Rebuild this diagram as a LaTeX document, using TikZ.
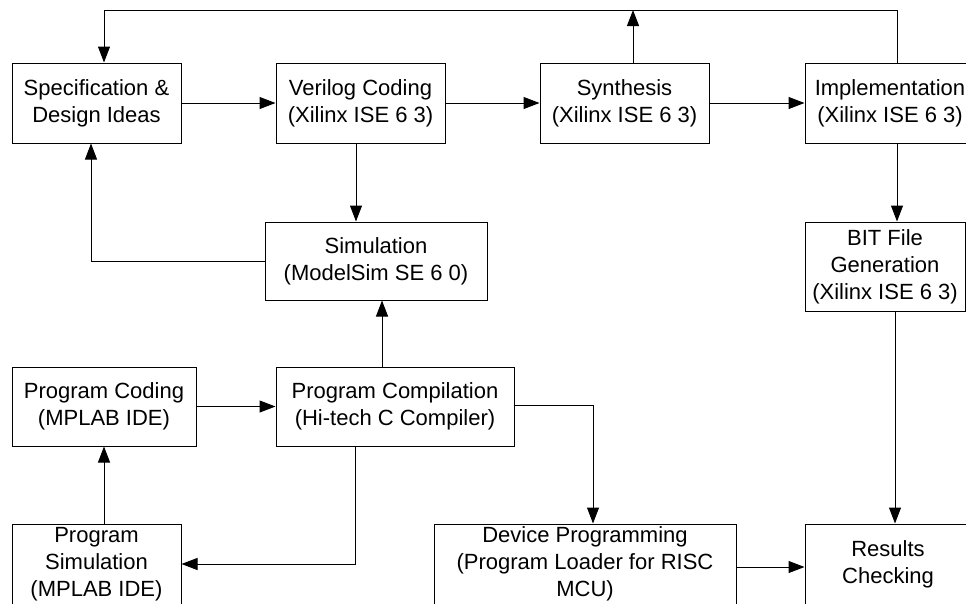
\documentclass[tikz,border=0pt]{standalone}
\usepackage{fontspec}
\setmainfont{Liberation Sans}
\usetikzlibrary{arrows.meta}
\tikzset{
  box/.style={draw=black, line width=1pt, rectangle, inner sep=0pt, align=center,
    font=\fontsize{22}{27}\selectfont},
  arr/.style={draw=black, line width=1pt, -{Triangle[length=16pt,width=12pt]}},
  ln/.style={draw=black, line width=1pt}
}
\begin{document}
\begin{tikzpicture}[x=1pt,y=-1pt]
\useasboundingbox (0,0) rectangle (966,603);
\clip (0,0) rectangle (966,603);
\fill[white] (0,0) rectangle (966,603);
% nodes
\node[box, minimum width=169pt, minimum height=80pt] (spec) at (96.5,103) {Specification \&\\Design Ideas};
\node[box, minimum width=169pt, minimum height=80pt] (ver) at (360.5,103) {Verilog Coding\\(Xilinx ISE 6 3)};
\node[box, minimum width=169pt, minimum height=80pt] (syn) at (624.5,103) {Synthesis\\(Xilinx ISE 6 3)};
\node[box, minimum width=170pt, minimum height=80pt] (imp) at (890,103) {Implementation\\(Xilinx ISE 6 3)};
\node[box, minimum width=222pt, minimum height=78pt] (sim) at (376,261) {Simulation\\(ModelSim SE 6 0)};
\node[box, minimum width=160pt, minimum height=89pt] (bit) at (885,266.5) {BIT File\\Generation\\(Xilinx ISE 6 3)};
\node[box, minimum width=184pt, minimum height=79pt] (pcod) at (104,406.5) {Program Coding\\(MPLAB IDE)};
\node[box, minimum width=238pt, minimum height=79pt] (pcomp) at (395,406.5) {Program Compilation\\(Hi-tech C Compiler)};
\node[box, minimum width=169pt, minimum height=80pt] (psim) at (96.5,564) {Program\\Simulation\\(MPLAB IDE)};
\node[box, minimum width=302pt, minimum height=80pt] (dev) at (585,564) {Device Programming\\(Program Loader for RISC\\MCU)};
\node[box, minimum width=166pt, minimum height=80pt] (res) at (888,564) {Results\\Checking};
% free ends
\coordinate (tl) at (104,10);
\coordinate (tr) at (897,10);
\coordinate (synup) at (633,10);
% connectors
\draw[arr] (spec) -- (ver);
\draw[arr] (ver) -- (syn);
\draw[arr] (syn) -- (imp);
\draw[arr] ([xshift=7pt]imp.north) -- (tr) -- (tl) -- ([xshift=7.5pt]spec.north);
\draw[arr] ([xshift=8.5pt]syn.north) -- (synup);
\draw[arr] ([xshift=-4.5pt]ver.south) -- ([xshift=-4.5pt]ver.south |- sim.north);
\draw[arr] (sim.west) -| ([xshift=-5.5pt]spec.south);
\draw[arr] ([xshift=-13pt]pcomp.north) -- ([xshift=-13pt]pcomp.north |- sim.south);
\draw[arr] (pcod) -- (pcomp);
\draw[arr] ([xshift=-40pt]pcomp.south) |- (psim.east);
\draw[arr] ([xshift=7.5pt]psim.north) -- ([xshift=7.5pt]psim.north |- pcod.south);
\draw[arr] ([yshift=1.5pt]pcomp.east) -| ([xshift=8pt]dev.north);
\draw[arr] ([xshift=7pt]imp.south) -- ([xshift=7pt]imp.south |- bit.north);
\draw[arr] ([xshift=10pt]bit.south) -- ([xshift=10pt]bit.south |- res.north);
\draw[arr] ([yshift=-3pt]dev.east) -- ([yshift=-3pt]dev.east -| res.west);
\end{tikzpicture}
\end{document}
